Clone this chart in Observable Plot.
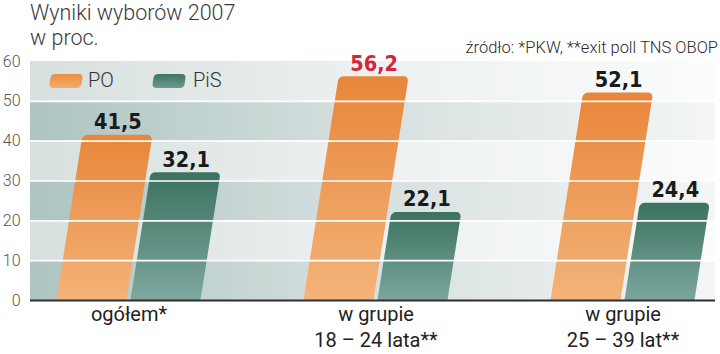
<!DOCTYPE html>
<html>
<head>
<meta charset="utf-8">
<script src="https://cdn.jsdelivr.net/npm/d3@7"></script>
<script src="https://cdn.jsdelivr.net/npm/@observablehq/plot@0.6"></script>
<style>
  body { margin: 0; background: #fff; }
  #wrap { position: relative; width: 720px; height: 354px; overflow: hidden; background: #fff; font-family: Roboto, "Noto Sans", sans-serif; }
  #title { position: absolute; left: 30px; top: 0px; font-size: 21.5px; line-height: 25px; font-weight: 300; color: #3a3a3a; }
  #source { position: absolute; right: 2px; top: 38px; font-size: 16.5px; font-weight: 300; color: #2a2a2a; white-space: nowrap; }
  #chart { position: absolute; left: 0; top: 0; }
  .leg { position: absolute; top: 74px; height: 14px; width: 32px; border-radius: 4px; transform: skewX(-9deg); }
  .legt { position: absolute; top: 68px; font-size: 20px; font-weight: 300; color: #333; line-height: 24px; }
</style>
</head>
<body>
<div id="wrap">
  <div id="chart"></div>
  <div id="title">Wyniki wyborów 2007<br>w proc.</div>
  <div id="source">źródło: *PKW, **exit poll TNS OBOP</div>
  <div class="leg" style="left:50px;background:linear-gradient(#ec8d42,#f3ad6c)"></div>
  <div class="legt" style="left:88px">PO</div>
  <div class="leg" style="left:153px;background:linear-gradient(#3f7564,#6c9a8f)"></div>
  <div class="legt" style="left:193px">PiS</div>
</div>
<script>
const categories = ["ogółem*", "w grupie\n18 – 24 lata**", "w grupie\n25 – 39 lat**"];
const parties = ["PO", "PiS"];
const poValues = [41.5, 56.2, 52.1];
const pisValues = [32.1, 22.1, 24.4];
const yTicks = [0, 10, 20, 30, 40, 50, 60];
const darkBands = [[0, 10], [20, 30], [40, 50]];
const lightBands = [[10, 20], [30, 40], [50, 60]];
const highlightCategory = categories[1];

const data = [];
categories.forEach((c, i) => {
  data.push({cat: c, party: parties[0], value: poValues[i]});
  data.push({cat: c, party: parties[1], value: pisValues[i]});
});

const yDomain = [0, 60];
const yRange = [300, 61];
const yScale = Plot.scale({y: {domain: yDomain, range: yRange}});
const k = 0.157; // slant of the bars
const half = (746 - 5) / 3 / 2;
const barW = 70, gap = 2;

const fmt = v => v.toFixed(1).replace(".", ",");

const labelMarks = data.map(d => {
  const centerOff = d.party === "PO" ? -(gap + barW / 2) : (gap + barW / 2);
  const shift = k * (yScale.apply(0) - yScale.apply(d.value));
  return Plot.text([d], {
    x: "cat", y: "value", text: dd => fmt(dd.value),
    dx: centerOff + shift, dy: -6, lineAnchor: "bottom",
    fontSize: 21.5, fontWeight: "bold",
    fontFamily: "'DejaVu Sans Condensed', 'DejaVu Sans', sans-serif",
    fill: (d.cat === highlightCategory && d.party === "PO") ? "#d2263a" : "#1a1a1a",
    style: "font-stretch:condensed"
  });
});

const chart = Plot.plot({
  width: 720, height: 354,
  marginTop: 61, marginBottom: 54, marginLeft: 30, marginRight: 5,
  style: {fontFamily: "Roboto, 'Noto Sans', sans-serif", background: "transparent", overflow: "visible"},
  x: {type: "band", domain: categories, range: [5, 746], padding: 0},
  y: {domain: yDomain, range: yRange},
  marks: [
    Plot.rect(darkBands, {y1: d => d[0], y2: d => d[1], fill: "url(#bgDark)"}),
    Plot.rect(lightBands, {y1: d => d[0], y2: d => d[1], fill: "url(#bgLight)"}),
    Plot.barY(data.filter(d => d.party === "PO"), {
      x: "cat", y: "value", fill: "url(#gOrange)", rx: 5,
      insetLeft: half - gap - barW, insetRight: half + gap, insetBottom: -8, clip: true
    }),
    Plot.barY(data.filter(d => d.party === "PiS"), {
      x: "cat", y: "value", fill: "url(#gGreen)", rx: 5,
      insetLeft: half + gap, insetRight: half - gap - barW, insetBottom: -8, clip: true
    }),
    Plot.ruleY([10, 20, 30, 40, 50], {stroke: "#ffffff", strokeWidth: 1.6}),
    Plot.ruleY([0], {stroke: "#2e2e2e", strokeWidth: 2}),
    Plot.axisY({ticks: yTicks, tickSize: 0, tickPadding: 10, fontSize: 16, fontWeight: 300, fill: "#555", label: null}),
    Plot.axisX({tickSize: 0, tickPadding: 2, fontSize: 20, fontWeight: "normal", lineHeight: 1.3, fill: "#222", label: null}),
    ...labelMarks
  ]
});

// gradients
const ns = "http://www.w3.org/2000/svg";
const defs = document.createElementNS(ns, "defs");
function grad(id, stops, horizontal) {
  const g = document.createElementNS(ns, "linearGradient");
  g.setAttribute("id", id);
  g.setAttribute("x1", 0); g.setAttribute("y1", 0);
  g.setAttribute("x2", horizontal ? 1 : 0); g.setAttribute("y2", horizontal ? 0 : 1);
  stops.forEach(([o, c]) => {
    const s = document.createElementNS(ns, "stop");
    s.setAttribute("offset", o); s.setAttribute("stop-color", c);
    g.appendChild(s);
  });
  defs.appendChild(g);
}
grad("gOrange", [[0, "#e8863a"], [1, "#f4b57c"]]);
grad("gGreen", [[0, "#3b7260"], [1, "#82aba3"]]);
grad("bgDark", [[0, "#adc4c1"], [0.45, "#d3dedd"], [1, "#f4f6f6"]], true);
grad("bgLight", [[0, "#d6e0df"], [0.45, "#ebefef"], [1, "#fbfcfc"]], true);
chart.insertBefore(defs, chart.firstChild);

// slant the bars (keep baseline fixed)
const angle = -Math.atan(k) * 180 / Math.PI;
const y0 = yScale.apply(0);
chart.querySelectorAll('g[aria-label="bar"]').forEach(g => {
  const prev = g.getAttribute("transform") || "";
  g.setAttribute("transform", `translate(${k * y0},0) skewX(${angle}) ${prev}`);
});

document.getElementById("chart").appendChild(chart);
</script>
</body>
</html>
